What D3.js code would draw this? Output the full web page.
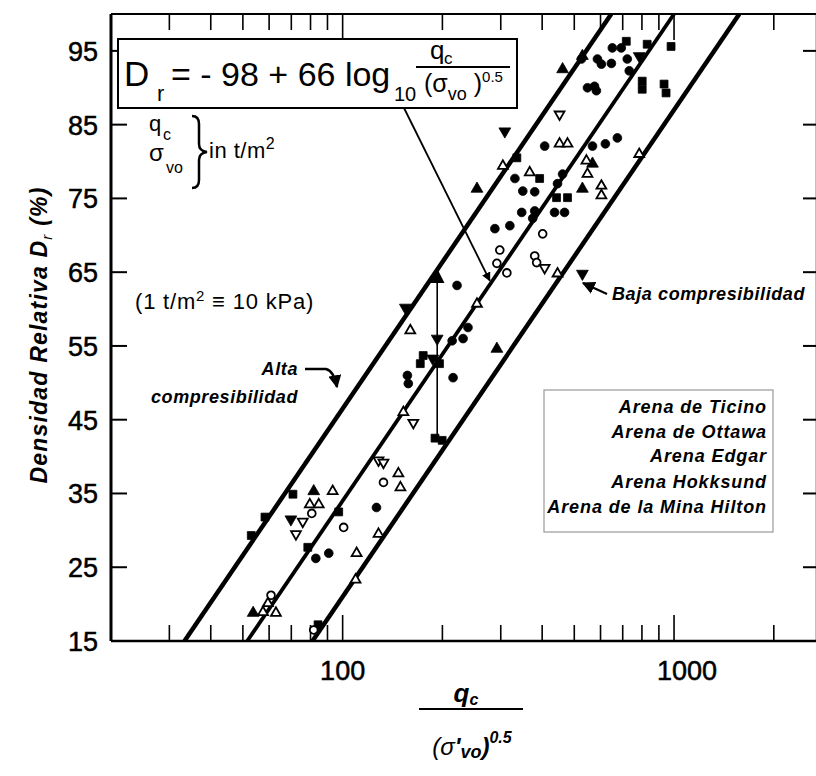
<!DOCTYPE html>
<html>
<head>
<meta charset="utf-8">
<script src="https://cdn.jsdelivr.net/npm/d3@7"></script>
<style>
  body { margin: 0; background: #fff; }
  text { font-family: "Liberation Sans", Arial, Helvetica, sans-serif; fill: #000; }
</style>
</head>
<body>
<svg id="chart" width="816" height="776"></svg>
<script>
// ---- axis setup ----
const xDomain = [20, 2700];
const yDomain = [15, 100];
const xMajorTicks = [100, 1000];
const xMinorTicks = [30, 40, 50, 60, 70, 80, 90, 200, 300, 400, 500, 600, 700, 800, 900, 2000];
const yTicks = [15, 25, 35, 45, 55, 65, 75, 85, 95];

// ---- correlation Dr = a + 66 log10(qc / sigma'vo^0.5) and its band ----
const slope = 66;
const bandIntercepts = [-85.5, -98, -111];   // alta compresibilidad, fit, baja compresibilidad

// ---- measured points, grouped by symbol: [qc/(sigma'vo)^0.5, Dr %] ----
const filledSquares = [[53, 29.3], [58.3, 31.8], [70.8, 34.9], [97.3, 32.5], [78.5, 27.7], [84.3, 17.2],
  [171.5, 52.6], [175, 53.7], [196, 52.6], [190, 42.5], [199.7, 42.2], [335.5, 80.5], [393, 77.7], [442, 75.1],
  [477, 75.1], [717.6, 96.3], [829.7, 95.9], [979.5, 95.6], [801.5, 90.9], [801.5, 89.8], [933, 90.5], [946, 89.3]];
const filledCircles = [[83, 26.2], [90.8, 26.9], [126.5, 33.1], [156.8, 51], [157.8, 49.9], [215.4, 50.7],
  [214, 55.7], [230.9, 56], [238.9, 57.5], [221.4, 63.2], [288, 70.9], [319.6, 71.3], [347, 73.1],
  [379.8, 73.3], [374.6, 72.3], [436, 73.1], [467.3, 73.1], [331, 77.7], [349.6, 76], [379.8, 75.9],
  [461, 78.3], [445, 77], [407, 82.1], [567.4, 82.1], [620.6, 82.4], [674.5, 83.2], [587.3, 93.9],
  [603.7, 93.2], [651.4, 95.4], [647, 93.3], [525.6, 93.9], [732.6, 92.3], [722.6, 93.9], [575.4, 90.2],
  [548, 90], [583, 89.6], [693, 95.4]];
const openCircles = [[60.8, 21.2], [80.7, 32.3], [100.7, 30.4], [132.8, 36.5], [401.4, 70.2], [298, 68],
  [379.8, 67.2], [385, 66.3], [292, 66.2], [313, 64.9], [81.8, 16.5]];
const filledTrianglesUp = [[53.7, 18.8], [81.8, 35.3], [254.3, 76.3], [292, 54.6],
  [529, 76.3], [567.4, 79.7], [461, 92.5], [529, 94.3]];
const openTrianglesUp = [[57.5, 18.9], [62.9, 18.8], [59.5, 20.1], [79.6, 33.5], [84.7, 33.5], [93.3, 35.3],
  [110.2, 26.9], [109.4, 23.3], [128.3, 29.5], [147.3, 37.7], [149.4, 35.8], [152.5, 46], [160, 57.1],
  [254.3, 60.7], [304.4, 79.4], [366.9, 78.5], [451.4, 82.4], [477, 82.4], [544, 80.1], [548, 78.3],
  [603.7, 76.7], [603.7, 75.4], [785, 81], [445, 64.8]];
const filledTrianglesDown = [[69.8, 31.5], [154.6, 60.2], [192.9, 56], [187, 53.3], [308.6, 84.1], [529, 64.8], [785, 94.3]];
const openTrianglesDown = [[75.8, 31.2], [72.3, 29.5], [128.3, 39.5], [132.8, 39.2], [163.4, 44.6],
  [407, 65.6], [451.4, 86.4]];

// range of Dr obtained at one qc value, shown as a vertical bar
const spreadX = 192.9;
const spreadDr = [42.5, 64.9];

const legendLabels = ["Arena de Ticino", "Arena de Ottawa", "Arena Edgar", "Arena Hokksund", "Arena de la Mina Hilton"];

// ---- drawing ----
const svg = d3.select("#chart");
const pLeft = 111, pRight = 817, pTop = 14, pBottom = 641;
const x = d3.scaleLog().domain(xDomain).range([pLeft, pRight]);
const y = d3.scaleLinear().domain(yDomain).range([pBottom, pTop]);

const defs = svg.append("defs");
defs.append("clipPath").attr("id", "plot")
  .append("rect").attr("x", pLeft).attr("y", pTop).attr("width", pRight - pLeft).attr("height", pBottom - pTop);
function arrowHead(id, w) {
  defs.append("marker").attr("id", id).attr("viewBox", "0 0 10 10").attr("refX", 9).attr("refY", 5)
    .attr("markerUnits", "userSpaceOnUse").attr("markerWidth", w).attr("markerHeight", w).attr("orient", "auto")
    .append("path").attr("d", "M0,0 L10,5 L0,10 Z").attr("fill", "#000");
}
arrowHead("head", 9);
arrowHead("headBig", 13);
arrowHead("headBar", 15);

// frame
svg.append("line").attr("x1", pLeft).attr("x2", pLeft).attr("y1", pTop).attr("y2", pBottom)
  .attr("stroke", "#000").attr("stroke-width", 3);
svg.append("line").attr("x1", pLeft).attr("x2", pRight).attr("y1", pBottom).attr("y2", pBottom)
  .attr("stroke", "#000").attr("stroke-width", 2.5);
svg.append("line").attr("x1", pLeft).attr("x2", pRight).attr("y1", pTop).attr("y2", pTop)
  .attr("stroke", "#000").attr("stroke-width", 2);
svg.append("line").attr("x1", pRight).attr("x2", pRight).attr("y1", pTop).attr("y2", pBottom)
  .attr("stroke", "#000").attr("stroke-width", 2.5);

// ticks on the four sides (inward)
const tickG = svg.append("g");
function xTickLen(v) { return xMajorTicks.includes(v) ? 26 : 16; }
xMinorTicks.concat(xMajorTicks).forEach(v => {
  tickG.append("line").attr("x1", x(v)).attr("x2", x(v)).attr("y1", pBottom).attr("y2", pBottom - xTickLen(v))
    .attr("stroke", "#000").attr("stroke-width", 1.6);
  tickG.append("line").attr("x1", x(v)).attr("x2", x(v)).attr("y1", pTop).attr("y2", pTop + xTickLen(v))
    .attr("stroke", "#000").attr("stroke-width", 1.6);
});
yTicks.filter(v => v > 15).forEach(v => {
  tickG.append("line").attr("x1", pLeft).attr("x2", pLeft + 16).attr("y1", y(v)).attr("y2", y(v))
    .attr("stroke", "#000").attr("stroke-width", 2);
  tickG.append("line").attr("x1", pRight).attr("x2", pRight - 14).attr("y1", y(v)).attr("y2", y(v))
    .attr("stroke", "#000").attr("stroke-width", 2);
});

// tick labels
const tickFont = g => g.style("font-size", "27px").style("stroke", "#000").style("stroke-width", "0.5px");
svg.append("g").call(tickFont).selectAll("text").data(yTicks).join("text")
  .attr("x", 98).attr("y", d => y(d) + 10).attr("text-anchor", "end").text(d => d);
const xLabelShift = [0, 13];
svg.append("g").call(tickFont).selectAll("text").data(xMajorTicks).join("text")
  .attr("x", (d, i) => x(d) + xLabelShift[i]).attr("y", 680).attr("text-anchor", "middle").text(d => d);

// axis titles
const yt = svg.append("text").attr("transform", "translate(47,335) rotate(-90)")
  .attr("text-anchor", "middle").style("font-size", "23px").style("font-style", "italic")
  .style("font-weight", "bold").style("letter-spacing", "1.2px");
yt.append("tspan").text("Densidad Relativa D");
yt.append("tspan").attr("dy", 5).style("font-size", "15px").style("font-weight", "normal").text("r");
yt.append("tspan").attr("dy", -5).text(" (%)");

const xt = svg.append("g").style("font-weight", "bold").style("font-style", "italic");
const xn = xt.append("text").attr("x", 466).attr("y", 702).attr("text-anchor", "middle").style("font-size", "26px");
xn.append("tspan").text("q");
xn.append("tspan").attr("dy", 3).style("font-size", "16px").text("c");
xt.append("line").attr("x1", 419).attr("x2", 523).attr("y1", 709).attr("y2", 709)
  .attr("stroke", "#000").attr("stroke-width", 2);
const xd = xt.append("text").attr("x", 472).attr("y", 755).attr("text-anchor", "middle").style("font-size", "24px");
xd.append("tspan").style("font-weight", "normal").text("(σ");
xd.append("tspan").text("'");
xd.append("tspan").attr("dy", 3).style("font-size", "18px").text("vo");
xd.append("tspan").attr("dy", -3).text(")");
xd.append("tspan").attr("dy", -12).style("font-size", "16px").text("0.5");

// band lines
const bandG = svg.append("g").attr("clip-path", "url(#plot)");
bandIntercepts.forEach(a => {
  const q0 = Math.pow(10, (yDomain[0] - a) / slope);
  const q1 = Math.pow(10, (yDomain[1] - a) / slope);
  bandG.append("line")
    .attr("x1", x(q0)).attr("y1", y(yDomain[0])).attr("x2", x(q1)).attr("y2", y(yDomain[1]))
    .attr("stroke", "#000").attr("stroke-width", a === -98 ? 3.8 : 4.5);
});

// vertical spread bar
svg.append("line").attr("x1", x(spreadX)).attr("x2", x(spreadX))
  .attr("y1", y(spreadDr[0])).attr("y2", y(spreadDr[1]) - 3).attr("stroke", "#000").attr("stroke-width", 1.6)
  .attr("marker-end", "url(#headBar)");

// symbols
const ptsG = svg.append("g").attr("clip-path", "url(#plot)");
function drawSet(data, type, filled, rot, size) {
  ptsG.append("g").selectAll("path").data(data).join("path")
    .attr("d", d3.symbol().type(type).size(size))
    .attr("transform", d => `translate(${x(d[0])},${y(d[1])}) rotate(${rot})`)
    .attr("fill", filled ? "#000" : "#fff")
    .attr("stroke", "#000").attr("stroke-width", filled ? 0.8 : 1.8);
}
drawSet(filledSquares, d3.symbolSquare, true, 0, 62);
drawSet(filledCircles, d3.symbolCircle, true, 0, 60);
drawSet(openCircles, d3.symbolCircle, false, 0, 48);
drawSet(filledTrianglesUp, d3.symbolTriangle, true, 0, 60);
drawSet(openTrianglesUp, d3.symbolTriangle, false, 0, 42);
drawSet(filledTrianglesDown, d3.symbolTriangle, true, 180, 60);
drawSet(openTrianglesDown, d3.symbolTriangle, false, 180, 42);

// equation box
svg.append("rect").attr("x", 118).attr("y", 39).attr("width", 399).attr("height", 69)
  .attr("fill", "#fff").attr("stroke", "#000").attr("stroke-width", 2);
const eq = svg.append("g");
eq.append("text").attr("x", 124).attr("y", 86).style("font-size", "35px").text("D");
eq.append("text").attr("x", 157).attr("y", 101).style("font-size", "22px").text("r");
eq.append("text").attr("x", 171).attr("y", 86).style("font-size", "34px").text("= - 98 + 66 log");
eq.append("text").attr("x", 394).attr("y", 101).style("font-size", "20px").text("10");
eq.append("text").attr("x", 430).attr("y", 59).style("font-size", "26px").text("q");
eq.append("text").attr("x", 444).attr("y", 64).style("font-size", "17px").text("c");
eq.append("line").attr("x1", 416).attr("x2", 510).attr("y1", 67).attr("y2", 67)
  .attr("stroke", "#000").attr("stroke-width", 2);
const den = eq.append("text").attr("x", 424).attr("y", 92).style("font-size", "25px");
den.append("tspan").text("(σ");
den.append("tspan").attr("dy", 8).style("font-size", "18px").text("vo");
den.append("tspan").attr("dy", -8).text(" )");
den.append("tspan").attr("dy", -10).style("font-size", "15px").text("0.5");

// arrow from the equation to the fitted line
const tgtQ = 278;
svg.append("line").attr("x1", 404).attr("y1", 108)
  .attr("x2", x(tgtQ)).attr("y2", y(bandIntercepts[1] + slope * Math.log10(tgtQ)) - 4)
  .attr("stroke", "#000").attr("stroke-width", 1.8).attr("marker-end", "url(#head)");

// units note
const un = svg.append("g");
un.append("text").attr("x", 149).attr("y", 131).style("font-size", "22px").text("q");
un.append("text").attr("x", 163).attr("y", 140).style("font-size", "16px").text("c");
un.append("text").attr("x", 149).attr("y", 161).style("font-size", "24px").text("σ");
un.append("text").attr("x", 166).attr("y", 173).style("font-size", "16px").text("vo");
un.append("path").attr("d", "M192,116 Q199,116 199,124 L199,144 Q199,151 207,152 Q199,153 199,160 L199,180 Q199,188 192,188")
  .attr("fill", "none").attr("stroke", "#000").attr("stroke-width", 2.5);
const unT = un.append("text").attr("x", 209).attr("y", 158).style("font-size", "22px").style("letter-spacing", "0.5px");
unT.append("tspan").text("in t/m");
unT.append("tspan").attr("dy", -9).style("font-size", "16px").text("2");

const conv = svg.append("text").attr("x", 135).attr("y", 309).style("font-size", "22px").style("letter-spacing", "0.8px");
conv.append("tspan").text("(1 t/m");
conv.append("tspan").attr("dy", -8).style("font-size", "15px").text("2");
conv.append("tspan").attr("dy", 8).text(" ≡ 10 kPa)");

// band annotations
const ann = svg.append("g").style("font-weight", "bold").style("font-style", "italic")
  .style("font-size", "18px").style("letter-spacing", "0.6px");
ann.append("text").attr("x", 298).attr("y", 375).attr("text-anchor", "end").text("Alta");
ann.append("text").attr("x", 298).attr("y", 403).attr("text-anchor", "end").text("compresibilidad");
ann.append("text").attr("x", 612).attr("y", 300).text("Baja compresibilidad");
svg.append("path").attr("d", "M305,369 L326,369 Q334,371 337,387")
  .attr("fill", "none").attr("stroke", "#000").attr("stroke-width", 2.5).attr("marker-end", "url(#headBig)");
svg.append("path").attr("d", "M607,294 L583,283")
  .attr("fill", "none").attr("stroke", "#000").attr("stroke-width", 2.2).attr("marker-end", "url(#headBig)");

// legend
svg.append("rect").attr("x", 544).attr("y", 390).attr("width", 229).attr("height", 142)
  .attr("fill", "#fff").attr("stroke", "#999").attr("stroke-width", 1.2);
svg.append("g").selectAll("text").data(legendLabels).join("text")
  .attr("x", 767).attr("y", (d, i) => [413, 438, 462, 488, 513][i]).attr("text-anchor", "end")
  .style("font-weight", "bold").style("font-style", "italic").style("font-size", "18px")
  .style("letter-spacing", "0.9px").text(d => d);
</script>
</body>
</html>
